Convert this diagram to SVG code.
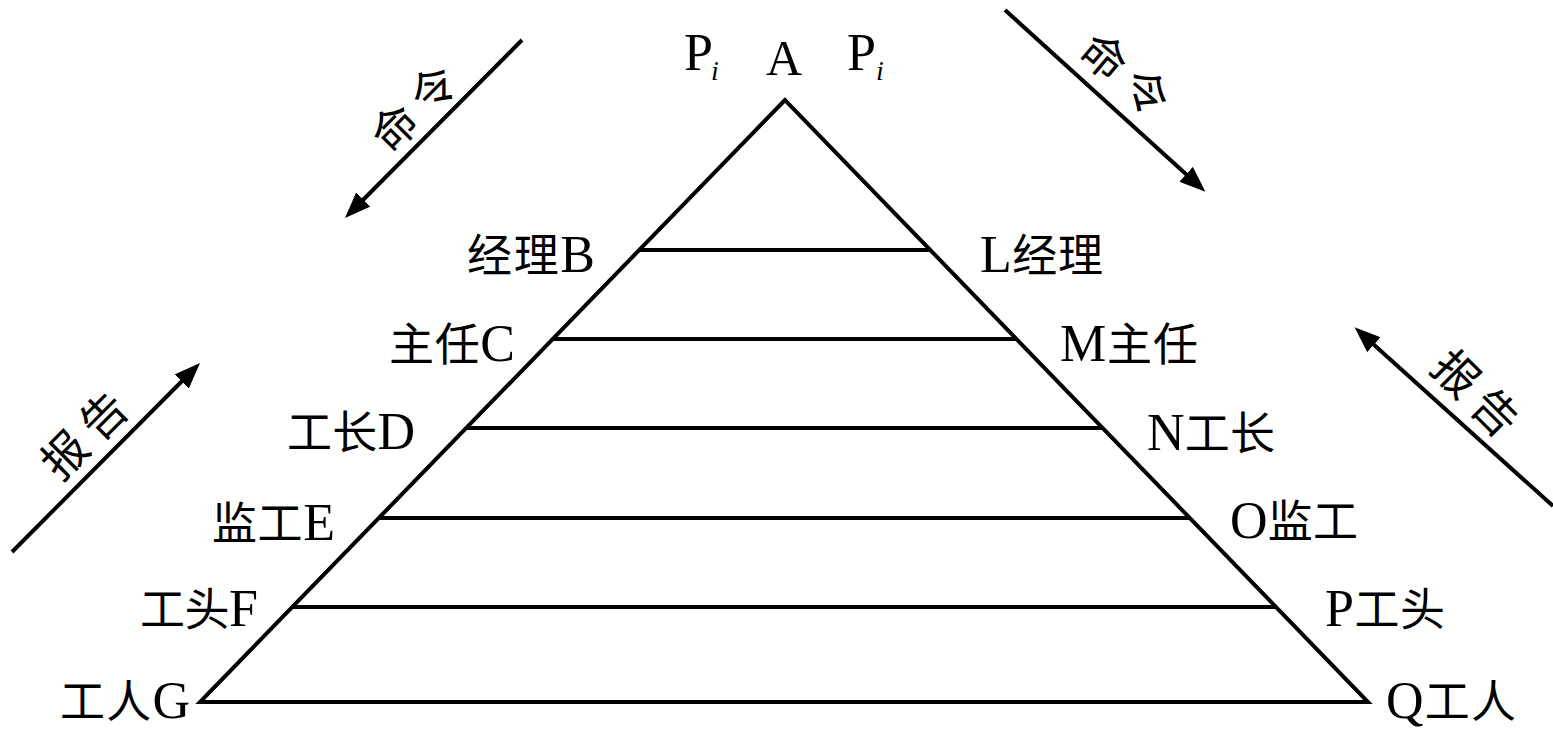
<svg xmlns="http://www.w3.org/2000/svg" width="1553" height="731" viewBox="0 0 1553 731">
<style>
.ln{stroke:#000;stroke-width:4;fill:none}
.lbl{font-family:"Liberation Serif","Noto Sans CJK SC",serif;font-size:46px;fill:#000}
.cjk{font-family:"Noto Sans CJK SC","Liberation Serif",sans-serif;font-size:45px}
.lat{font-family:"Liberation Serif",serif;font-size:52px}
.arr{stroke:#000;stroke-width:4;fill:none;marker-end:url(#ah)}
.rot{font-family:"Noto Sans CJK SC",sans-serif;font-size:45px;fill:#000;letter-spacing:10px}
</style>
<defs>
<marker id="ah" markerUnits="userSpaceOnUse" markerWidth="30" markerHeight="24" refX="16" refY="10" orient="auto">
<path d="M0,0 L26,10 L0,20 Z" fill="#000"/>
</marker>
</defs>
<rect width="1553" height="731" fill="#fff"/>
<g id="pyramid">
<polygon class="ln" points="785,100 200,702 1368,702" stroke-linejoin="miter"/>
<line class="ln" x1="639" y1="250" x2="930" y2="250"/>
<line class="ln" x1="553" y1="339" x2="1016" y2="339"/>
<line class="ln" x1="466" y1="428" x2="1103" y2="428"/>
<line class="ln" x1="379" y1="518" x2="1190" y2="518"/>
<line class="ln" x1="292" y1="607" x2="1276" y2="607"/>
</g>
<g id="apex">
<text class="lbl" x="684" y="70" style="font-size:52px">P</text>
<text x="711" y="80" style="font-family:'Liberation Serif',serif;font-style:italic;font-size:28px">i</text>
<text class="lbl" x="766" y="75" style="font-size:50px">A</text>
<text class="lbl" x="847" y="70" style="font-size:52px">P</text>
<text x="876" y="80" style="font-family:'Liberation Serif',serif;font-style:italic;font-size:28px">i</text>
</g>
<g id="left-labels" class="lbl" text-anchor="end">
<text id="B" x="595" y="272" textLength="128" lengthAdjust="spacing"><tspan class="cjk">经理</tspan><tspan class="lat">B</tspan></text>
<text id="C" x="515" y="361" textLength="126" lengthAdjust="spacing"><tspan class="cjk">主任</tspan><tspan class="lat">C</tspan></text>
<text id="D" x="415" y="449" textLength="128" lengthAdjust="spacing"><tspan class="cjk">工长</tspan><tspan class="lat">D</tspan></text>
<text id="E" x="335" y="540" textLength="123" lengthAdjust="spacing"><tspan class="cjk">监工</tspan><tspan class="lat">E</tspan></text>
<text id="F" x="258" y="626" textLength="118" lengthAdjust="spacing"><tspan class="cjk">工头</tspan><tspan class="lat">F</tspan></text>
<text id="G" x="190" y="718" textLength="130" lengthAdjust="spacing"><tspan class="cjk">工人</tspan><tspan class="lat">G</tspan></text>
</g>
<g id="right-labels" class="lbl">
<text id="L" x="980" y="272" textLength="123" lengthAdjust="spacing"><tspan class="lat">L</tspan><tspan class="cjk">经理</tspan></text>
<text id="M" x="1060" y="361" textLength="138" lengthAdjust="spacing"><tspan class="lat">M</tspan><tspan class="cjk">主任</tspan></text>
<text id="N" x="1147" y="450" textLength="128" lengthAdjust="spacing"><tspan class="lat">N</tspan><tspan class="cjk">工长</tspan></text>
<text id="O" x="1230" y="538" textLength="128" lengthAdjust="spacing"><tspan class="lat">O</tspan><tspan class="cjk">监工</tspan></text>
<text id="P" x="1325" y="626" textLength="120" lengthAdjust="spacing"><tspan class="lat">P</tspan><tspan class="cjk">工头</tspan></text>
<text id="Q" x="1386" y="718" textLength="130" lengthAdjust="spacing"><tspan class="lat">Q</tspan><tspan class="cjk">工人</tspan></text>
</g>
<g id="connectors">
<line class="arr" x1="522" y1="40" x2="352" y2="211"/>
<line class="arr" x1="1005" y1="10" x2="1198" y2="185"/>
<line class="arr" x1="12" y1="552" x2="193" y2="370"/>
<line class="arr" x1="1553" y1="506" x2="1362" y2="334"/>
</g>
<g id="arrow-labels" class="rot" text-anchor="middle" dominant-baseline="central">
<text transform="translate(412,106) rotate(-45)" x="5" y="0">命令</text>
<text transform="translate(1127,72) rotate(40)" x="5" y="0">命令</text>
<text transform="translate(82,433) rotate(-45)" x="5" y="0">报告</text>
<text transform="translate(1478,391) rotate(45)" x="5" y="0">报告</text>
</g>
</svg>
